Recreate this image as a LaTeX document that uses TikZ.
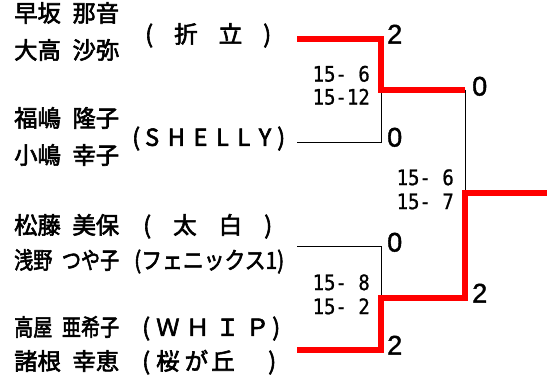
\documentclass[tikz,border=0pt]{standalone}
\usepackage{fontspec}
\usepackage{graphicx}
\setmainfont{Noto Sans CJK JP}
\newfontfamily\cjkf[FakeBold=2.5]{Noto Sans CJK JP}
\newfontfamily\arialf[FakeBold=1.5]{Liberation Sans}
\newfontfamily\monof[FakeBold=1]{DejaVu Sans Mono}
\newcommand{\nmfit}[1]{\resizebox{105pt}{\height}{#1}}
\newcommand{\tallsc}[1]{\scalebox{1}[1.12]{#1}}
\begin{document}
\begin{tikzpicture}[x=1pt,y=-1pt,
  namebox/.style={anchor=west,inner sep=0pt,font=\cjkf\fontsize{23.5}{23.5}\selectfont,text height=0.85em,text depth=0.08em},
  teambox/.style={namebox},
  scorebox/.style={anchor=east,inner sep=0pt,font=\monof\fontsize{19}{19}\selectfont,text height=0.82em,text depth=0pt},
  resultbox/.style={anchor=west,inner sep=0pt,font=\arialf\fontsize{27}{27}\selectfont,text height=0.716em,text depth=0pt},
  winline/.style={draw=red,line width=5.5pt},
  loseline/.style={draw=black,line width=1pt}]
\fill[white] (0,0) rectangle (547,385);
\useasboundingbox (0,0) rectangle (547,385);
% names
\node[namebox] (n1a) at (14,18) {\nmfit{早坂\hspace{0.5em}那音}};
\node[namebox] (n1b) at (14,55) {\nmfit{大高\hspace{0.5em}沙弥}};
\node[namebox] (n2a) at (14,123) {\nmfit{福嶋\hspace{0.5em}隆子}};
\node[namebox] (n2b) at (14,160) {\nmfit{小嶋\hspace{0.5em}幸子}};
\node[namebox] (n3a) at (14,230) {\nmfit{松藤\hspace{0.5em}美保}};
\node[namebox] (n3b) at (14,265) {\nmfit{浅野\hspace{0.5em}つや子}};
\node[namebox] (n4a) at (14,332) {\nmfit{高屋\hspace{0.5em}亜希子}};
\node[namebox] (n4b) at (14,366) {\nmfit{諸根\hspace{0.5em}幸恵}};
% teams
\node[teambox] (t1) at (145,39) {\makebox[126pt][l]{(\hfill 折\hfill 立\hfill )}};
\node[teambox] (t2) at (132,142) {\makebox[153pt][l]{(\hspace{5pt}S\hfill H\hfill E\hfill L\hfill L\hfill Y\hspace{6pt})}};
\node[teambox] (t3a) at (143,230) {\makebox[129pt][l]{(\hfill 太\hfill 白\hfill )}};
\node[teambox] (t3b) at (134,265) {\resizebox{150pt}{\height}{(フェニックス1)}};
\node[teambox] (t4a) at (142,332) {\makebox[138pt][l]{(\hspace{6pt}Ｗ\hfill Ｈ\hfill Ｉ\hfill Ｐ\hspace{3pt})}};
\node[teambox] (t4b) at (142,366) {\makebox[134pt][l]{(\hspace{6pt}桜\hspace{5pt}が\hspace{3pt}丘\hfill )}};
% set scores
\node[scorebox] (s1a) at (370,77.5) {\tallsc{15- 6}};
\node[scorebox] (s1b) at (370,100.5) {\tallsc{15-12}};
\node[scorebox] (s3a) at (454,181) {\tallsc{15- 6}};
\node[scorebox] (s3b) at (454,205) {\tallsc{15- 7}};
\node[scorebox] (s2a) at (370,286) {\tallsc{15- 8}};
\node[scorebox] (s2b) at (370,310) {\tallsc{15- 2}};
% match results
\node[resultbox] (r1) at (387,40) {2};
\node[resultbox] (r2) at (387,143) {0};
\node[resultbox] (r3) at (387,248) {0};
\node[resultbox] (r4) at (387,351) {2};
\node[resultbox] (r5) at (472,92) {0};
\node[resultbox] (r6) at (472,299) {2};
% bracket points
\coordinate (p1) at (297,39);
\coordinate (p2) at (297,143);
\coordinate (p3) at (297,247);
\coordinate (p4) at (297,350);
\coordinate (j1) at (381,90);
\coordinate (j2) at (381,298);
\coordinate (f) at (465,193);
\coordinate (w) at (547,193);
\draw[loseline] (p2) -| (j1);
\draw[loseline] (p3) -| (j2);
\draw[loseline] (j1 -| f) -- (f);
\draw[winline] (p1) -| (j1) -- (j1 -| f);
\draw[winline] (w) -- (f) |- (j2) |- (p4);
\end{tikzpicture}
\end{document}
